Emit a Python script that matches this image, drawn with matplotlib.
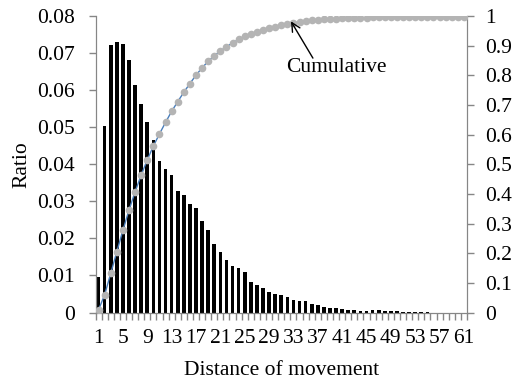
import numpy as np
import matplotlib
matplotlib.use('Agg')
import matplotlib.pyplot as plt

plt.rcParams['font.family'] = ['Liberation Serif', 'DejaVu Serif']
plt.rcParams['font.size'] = 15.5

# distance of movement 1..61 and share of moves at each distance
distance = list(range(1, 62))
ratio = [0.0097, 0.0502, 0.0722, 0.0730, 0.0724, 0.0682, 0.0614, 0.0563, 0.0514, 0.0466,
         0.0410, 0.0388, 0.0372, 0.0327, 0.0318, 0.0292, 0.0283, 0.0247, 0.0222, 0.0186,
         0.0162, 0.0143, 0.0125, 0.0121, 0.0110, 0.0082, 0.0073, 0.0065, 0.0055, 0.0050,
         0.0046, 0.0043, 0.0034, 0.0031, 0.0031, 0.0023, 0.0019, 0.0015, 0.0013, 0.0011,
         0.0009, 0.0008, 0.0006, 0.0005, 0.0005, 0.0007, 0.0007, 0.0005, 0.0004, 0.0003,
         0.0002, 0.0001, 0.00005, 0.0001, 0.00005, 0, 0, 0, 0, 0, 0]
# cumulative share is the running total of the ratios
cumulative = np.cumsum(ratio)

axis_gray = '#868686'

fig = plt.figure(figsize=(5.18, 3.82), dpi=100)
ax = fig.add_axes([0.1844, 0.1819, 0.9015 - 0.1844, 0.9581 - 0.1819])

ax.bar(distance, ratio, width=0.6, color='black', zorder=2)
ax.set_xlim(0.5, 61.5)
ax.set_ylim(0, 0.08)
ax.set_yticks(np.arange(0, 0.081, 0.01))
ax.set_yticklabels(['0'] + ['%.2f' % v for v in np.arange(0.01, 0.081, 0.01)])

ax.set_xticks(distance[::4])
ax.set_xticklabels([str(d) for d in distance[::4]])
ax.set_xticks(np.arange(0.5, 62, 1), minor=True)
ax.tick_params(axis='x', which='major', length=0, pad=12)
ax.tick_params(axis='x', which='minor', length=5, color=axis_gray, width=1)
ax.tick_params(axis='y', length=5, color=axis_gray, width=1, pad=10)

for side in ['left', 'bottom', 'right']:
    ax.spines[side].set_color(axis_gray)
ax.spines['top'].set_visible(False)

ax.set_xlabel('Distance of movement', labelpad=9)
ax.set_ylabel('Ratio', labelpad=4)

ax2 = ax.twinx()
ax2.plot(distance, cumulative, color='#4a7ebb', lw=1, zorder=3)
ax2.plot(distance, cumulative, 'o', color='#b4b4b4', markersize=5.5, mec='none', zorder=4)
ax2.set_ylim(0, 1)
ax2.set_yticks(np.arange(0, 1.01, 0.1))
ax2.set_yticklabels(['0'] + ['%.1f' % v for v in np.arange(0.1, 0.95, 0.1)] + ['1'])
ax2.tick_params(axis='y', length=5, color=axis_gray, width=1, pad=8)
for side in ['left', 'bottom', 'right']:
    ax2.spines[side].set_color(axis_gray)
ax2.spines['top'].set_visible(False)

ax2.annotate('', xy=(32.6, 0.982), xytext=(36.2, 0.858), zorder=6,
             arrowprops=dict(arrowstyle='->', color='black', lw=1, shrinkA=0, shrinkB=0))
ax2.text(40.1, 0.826, 'Cumulative', ha='center', va='center', zorder=6)

fig.savefig('out.png', dpi=100)
